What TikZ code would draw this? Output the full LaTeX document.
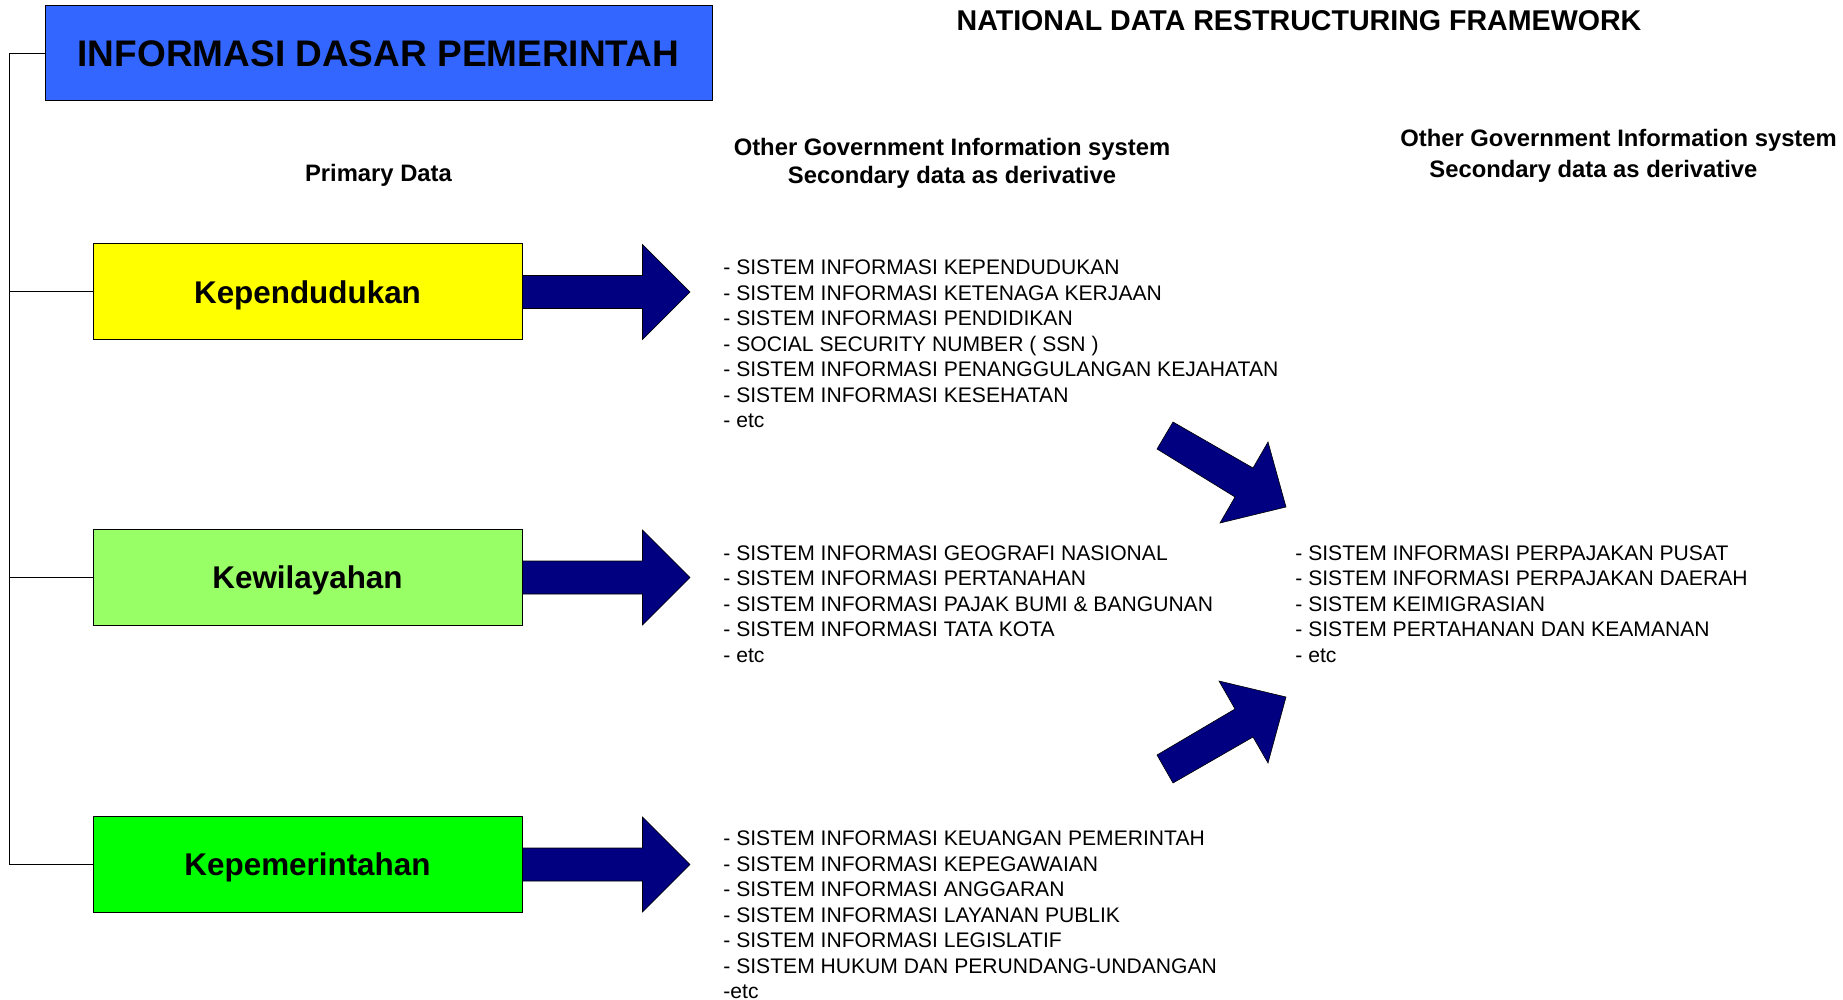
\documentclass[tikz,border=0pt]{standalone}
\usepackage{fontspec}
\setmainfont{Liberation Sans}
\usetikzlibrary{calc}
\definecolor{titleblue}{HTML}{3366FF}
\definecolor{boxyellow}{HTML}{FFFF00}
\definecolor{boxlgreen}{HTML}{99FF66}
\definecolor{boxgreen}{HTML}{00FF00}
\definecolor{arrownavy}{HTML}{000080}
\begin{document}
\begin{tikzpicture}[x=0.5pt,y=-0.5pt,
  titlebox/.style={draw=black, line width=0.5pt, fill=titleblue, minimum width=333.5pt, minimum height=47.5pt, inner sep=0pt, font=\fontsize{18.5}{22}\selectfont\bfseries},
  catbox/.style={draw=black, line width=0.5pt, minimum width=214.5pt, minimum height=48pt, inner sep=0pt, text depth=0pt, font=\fontsize{15.7}{18}\selectfont\bfseries},
  headtext/.style={inner sep=0pt, font=\fontsize{14.3}{17}\selectfont\bfseries},
  subhead/.style={inner sep=0pt, font=\fontsize{11.9}{14}\selectfont\bfseries},
  listtext/.style={inner sep=0pt, anchor=north west, align=left, font=\fontsize{10.55}{12.75}\selectfont},
  blockarrow/.style={fill=arrownavy, draw=black, line width=0.3pt, line join=miter},
  bracket/.style={draw=black, line width=0.5pt}
]
\useasboundingbox (0,0) rectangle (1843,1000);

% title and headers
\node[titlebox] (title) at (378.5,53.5) {INFORMASI DASAR PEMERINTAH};
\node[headtext] (nat) at (1299,20.5) {NATIONAL DATA RESTRUCTURING FRAMEWORK};
\node[subhead] (prim) at (378.5,175) {Primary Data};
\node[subhead, anchor=north, align=center, font=\fontsize{11.9}{14}\selectfont\bfseries] (sec1) at (952,137.5)
  {Other Government Information system\\Secondary data as derivative};
\node[subhead, anchor=north west, align=left, font=\fontsize{11.9}{15.25}\selectfont\bfseries] (sec2) at (1400,129)
  {Other Government Information system\\\hspace*{14.5pt}Secondary data as derivative};

% category boxes
\node[catbox, fill=boxyellow] (b1) at (307.5,292) {Kependudukan};
\node[catbox, fill=boxlgreen] (b2) at (307.5,577.5) {Kewilayahan};
\node[catbox, fill=boxgreen] (b3) at (307.5,864.5) {Kepemerintahan};

% bracket
\coordinate (spine) at (9.4,53.5);
\draw[bracket] (title.west) -- (spine) |- (b3.west);
\draw[bracket] (spine |- b1.west) -- (b1.west);
\draw[bracket] (spine |- b2.west) -- (b2.west);

% horizontal block arrows
\foreach \b in {b1,b2,b3}{
  \path[blockarrow] ($(\b.east)+(0,-16.5)$) -- ($(\b.east)+(120,-16.5)$) -- ($(\b.east)+(120,-47.5)$)
    -- ($(\b.east)+(167.5,0)$) -- ($(\b.east)+(120,47.5)$) -- ($(\b.east)+(120,16.5)$)
    -- ($(\b.east)+(0,16.5)$) -- cycle;
}

% lists
\node[listtext] (l1) at (723,259.5) {- SISTEM INFORMASI KEPENDUDUKAN\\
- SISTEM INFORMASI KETENAGA KERJAAN\\
- SISTEM INFORMASI PENDIDIKAN\\
- SOCIAL SECURITY NUMBER ( SSN )\\
- SISTEM INFORMASI PENANGGULANGAN KEJAHATAN\\
- SISTEM INFORMASI KESEHATAN\\
- etc};
\node[listtext] (l2) at (723,545) {- SISTEM INFORMASI GEOGRAFI NASIONAL\\
- SISTEM INFORMASI PERTANAHAN\\
- SISTEM INFORMASI PAJAK BUMI \& BANGUNAN\\
- SISTEM INFORMASI TATA KOTA\\
- etc};
\node[listtext] (l3) at (723,830.5) {- SISTEM INFORMASI KEUANGAN PEMERINTAH\\
- SISTEM INFORMASI KEPEGAWAIAN\\
- SISTEM INFORMASI ANGGARAN\\
- SISTEM INFORMASI LAYANAN PUBLIK\\
- SISTEM INFORMASI LEGISLATIF\\
- SISTEM HUKUM DAN PERUNDANG-UNDANGAN\\
-etc};
\node[listtext] (l4) at (1295,545) {- SISTEM INFORMASI PERPAJAKAN PUSAT\\
- SISTEM INFORMASI PERPAJAKAN DAERAH\\
- SISTEM KEIMIGRASIAN\\
- SISTEM PERTAHANAN DAN KEAMANAN\\
- etc};

% diagonal block arrows
\path[blockarrow] (1173,422) -- (1253,468) -- (1268,442) -- (1286,507) -- (1220,523) -- (1235,497) -- (1157,449) -- cycle;
\path[blockarrow] (1157,755) -- (1235,709) -- (1219,681) -- (1286,697) -- (1268,763) -- (1253,737) -- (1173,783) -- cycle;
\end{tikzpicture}
\end{document}
